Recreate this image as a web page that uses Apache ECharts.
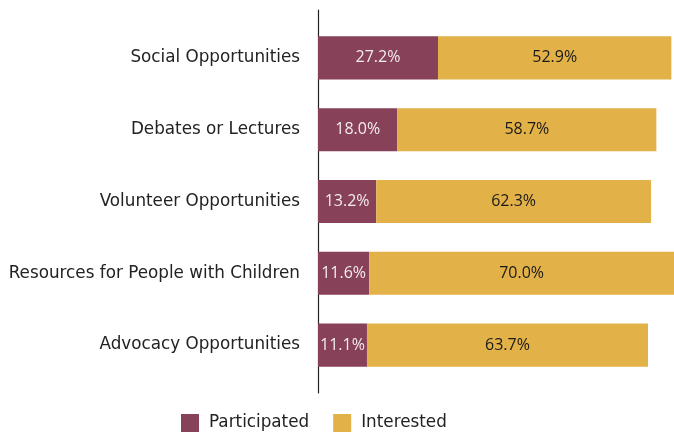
<!DOCTYPE html>
<html>
<head>
<meta charset="utf-8">
<script src="https://cdn.jsdelivr.net/npm/echarts@6/dist/echarts.min.js"></script>
<style>
  html, body { margin: 0; padding: 0; background: #ffffff; }
  #chart { width: 674px; height: 433px; }
</style>
</head>
<body>
<div id="chart"></div>
<script>
// Activity categories, listed top to bottom
const categories = [
  'Social Opportunities',
  'Debates or Lectures',
  'Volunteer Opportunities',
  'Resources for People with Children',
  'Advocacy Opportunities'
];
// Share of respondents (%)
const participated = [27.2, 18.0, 13.2, 11.6, 11.1];
const interested = [52.9, 58.7, 62.3, 70.0, 63.7];
const seriesNames = ['Participated', 'Interested'];

const TEXT_FONT = '"DejaVu Sans", "Open Sans", sans-serif';
const VALUE_FONT = '"Open Sans", Lato, sans-serif';
const MAROON = '#874159';
const GOLD = '#E2B148';

const chart = echarts.init(document.getElementById('chart'), null, { renderer: 'canvas' });

const pct = (p) => p.value.toFixed(1) + '%';

chart.setOption({
  animation: false,
  legend: {
    bottom: -4,
    left: 176,
    itemWidth: 18,
    itemHeight: 18,
    itemGap: 24,
    icon: 'rect',
    textStyle: { fontFamily: TEXT_FONT, fontSize: 16.8, color: '#222', padding: [0, 0, 0, 5] },
    data: seriesNames
  },
  grid: [
    { left: 318, right: 0, top: 22, bottom: 52, containLabel: false },
    { left: 318, right: 0, top: 10, bottom: 40, containLabel: false }
  ],
  xAxis: [
    // the widest bar runs past the right edge of the plot
    { type: 'value', gridIndex: 0, min: 0, max: 80.7, show: false },
    { type: 'value', gridIndex: 1, min: 0, max: 80.7, show: false }
  ],
  yAxis: [
    {
      type: 'category',
      gridIndex: 0,
      data: categories,
      inverse: true,
      axisLine: { show: false },
      axisTick: { show: false },
      axisLabel: {
        margin: 18,
        fontFamily: TEXT_FONT,
        fontSize: 16.8,
        color: '#222'
      }
    },
    {
      // full-height baseline at the left edge of the bars
      type: 'value',
      gridIndex: 1,
      axisLine: { show: true, lineStyle: { color: '#222', width: 1.2 } },
      axisTick: { show: false },
      axisLabel: { show: false },
      splitLine: { show: false }
    }
  ],
  series: [
    {
      name: seriesNames[0],
      type: 'bar',
      stack: 'total',
      barCategoryGap: '40%',
      itemStyle: { color: MAROON },
      label: {
        show: true,
        position: 'inside',
        formatter: pct,
        fontFamily: VALUE_FONT,
        fontSize: 16,
        color: '#f3ecef'
      },
      data: participated
    },
    {
      name: seriesNames[1],
      type: 'bar',
      stack: 'total',
      barCategoryGap: '40%',
      itemStyle: { color: GOLD },
      label: {
        show: true,
        position: 'inside',
        formatter: pct,
        fontFamily: VALUE_FONT,
        fontSize: 16,
        color: '#1a1a1a'
      },
      data: interested
    }
  ]
});
</script>
</body>
</html>
